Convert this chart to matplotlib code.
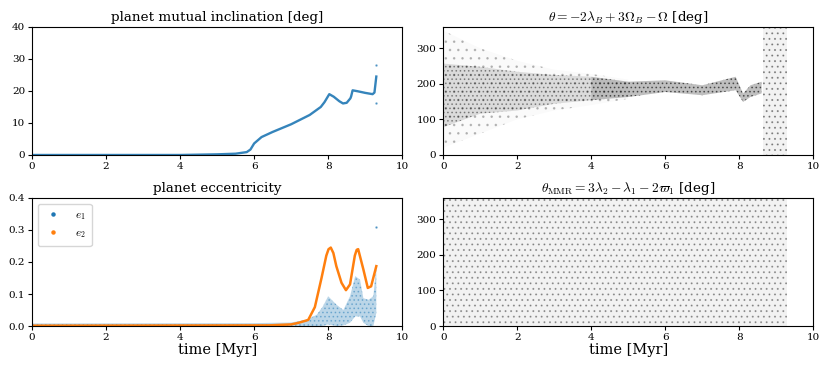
import matplotlib
matplotlib.use("Agg")
import matplotlib.pyplot as plt
from matplotlib.lines import Line2D

plt.rcParams['font.family'] = 'serif'
plt.rcParams['font.serif'] = ['DejaVu Serif']
plt.rcParams['mathtext.fontset'] = 'cm'
plt.rcParams['hatch.linewidth'] = 0.7

# mutual inclination [deg] vs time [Myr]
inc_t = [0, 1, 2, 3, 4, 5.0, 5.5, 5.8, 5.9, 6.0, 6.2, 6.5, 7.0, 7.5, 7.8, 7.9, 8.03,
         8.15, 8.3, 8.4, 8.5, 8.6, 8.62, 8.66, 8.8, 9.0, 9.2, 9.25, 9.3]
inc = [0, 0, 0, 0, 0, 0.2, 0.4, 0.9, 1.7, 3.6, 5.6, 7.2, 9.6, 12.5, 15.0, 16.5, 19.0,
       18.2, 16.8, 16.1, 16.3, 17.7, 18.3, 20.2, 19.9, 19.4, 19.0, 19.5, 24.5]
inc_out_t = [9.3, 9.3]
inc_out = [28.0, 16.3]

# eccentricity of planet 2 (orange curve)
e2_t = [0, 6.4, 7.0, 7.2, 7.46, 7.64, 7.82, 7.95, 8.01, 8.07, 8.14, 8.22, 8.36, 8.48,
        8.59, 8.72, 8.77, 8.81, 8.95, 9.07, 9.16, 9.3]
e2 = [0.001, 0.002, 0.005, 0.01, 0.019, 0.059, 0.15, 0.22, 0.24, 0.245, 0.228, 0.187,
      0.135, 0.112, 0.13, 0.22, 0.238, 0.24, 0.177, 0.119, 0.124, 0.187]

# eccentricity of planet 1 (blue cloud), lower / upper envelope
e1_t = [0, 6.0, 7.0, 7.4, 7.69, 7.85, 8.0, 8.23, 8.41, 8.59, 8.73, 8.86, 8.95, 9.09, 9.22, 9.3]
e1_lo = [0.0, 0.0, 0.0, 0.0, 0.0, 0.0, 0.005, 0.0, 0.002, 0.01, 0.03, 0.03, 0.01, 0.0, 0.0, 0.04]
e1_hi = [0.008, 0.009, 0.011, 0.019, 0.035, 0.06, 0.093, 0.066, 0.05, 0.093, 0.156, 0.145, 0.087, 0.082, 0.093, 0.187]
e1_out_t = [9.3]
e1_out = [0.31]

# theta = -2 lam_B + 3 Om_B - Om : dense band (early, late) and sparse outer band
th_t1 = [0, 1, 2, 3, 4]
th_lo1 = [78, 116, 125, 144, 154]
th_hi1 = [257, 248, 234, 225, 220]
th_t2 = [4, 5, 6, 7, 7.9, 8.1, 8.3, 8.6]
th_lo2 = [154, 163, 177, 168, 182, 149, 163, 173]
th_hi2 = [220, 206, 210, 196, 220, 173, 196, 206]
th_out_t = [0, 1, 2, 3, 4, 5]
th_out_lo = [20, 60, 100, 125, 140, 158]
th_out_hi = [350, 300, 265, 240, 228, 212]
th_circ_t = [8.65, 9.3]      # circulating part, fills 0..360

# theta_MMR circulates over the whole run
mmr_t = [0, 9.3]

fig = plt.figure(figsize=(8.3, 3.69), dpi=100)
ax1 = fig.add_axes([0.0386, 0.580, 0.446, 0.347])
ax2 = fig.add_axes([0.534, 0.580, 0.446, 0.347])
ax3 = fig.add_axes([0.0386, 0.1165, 0.446, 0.347])
ax4 = fig.add_axes([0.534, 0.1165, 0.446, 0.347])

blue = '#1f77b4'
orange = '#ff7f0e'

# inclination
ax1.plot(inc_t, inc, color=blue, lw=1.7, alpha=0.9)
ax1.plot(inc_out_t, inc_out, '.', color=blue, ms=1.5, alpha=0.6)
ax1.set_xlim(0, 10)
ax1.set_ylim(0, 40)
ax1.set_title('planet mutual inclination [deg]')

# theta
ax2.fill_between(th_out_t, th_out_lo, th_out_hi, facecolor=(0, 0, 0, 0.02),
                 hatch='..', edgecolor=(0, 0, 0, 0.2), lw=0)
ax2.fill_between(th_t1, th_lo1, th_hi1, facecolor=(0, 0, 0, 0.12),
                 hatch='....', edgecolor=(0, 0, 0, 0.35), lw=0)
ax2.fill_between(th_t2, th_lo2, th_hi2, facecolor=(0, 0, 0, 0.25),
                 hatch='....', edgecolor=(0, 0, 0, 0.5), lw=0)
ax2.fill_between(th_circ_t, [0, 0], [360, 360], facecolor=(0, 0, 0, 0.05),
                 hatch='...', edgecolor=(0, 0, 0, 0.35), lw=0)
ax2.set_xlim(0, 10)
ax2.set_ylim(0, 360)
ax2.set_yticks([0, 100, 200, 300])
ax2.set_title(r'$\theta = -2\lambda_B + 3\Omega_B - \Omega$ [deg]')

# eccentricity
ax3.fill_between(e1_t, e1_lo, e1_hi, facecolor=(0.12, 0.47, 0.71, 0.3),
                 hatch='....', edgecolor=(0.12, 0.47, 0.71, 0.4), lw=0)
ax3.plot(e1_out_t, e1_out, '.', color=blue, ms=1.5, alpha=0.6)
ax3.plot(e2_t, e2, color=orange, lw=1.8)
ax3.set_xlim(0, 10)
ax3.set_ylim(0, 0.4)
ax3.set_title('planet eccentricity')
ax3.set_xlabel('time [Myr]', fontsize=10.5, labelpad=1)
handles = [Line2D([], [], ls='none', marker='o', ms=2.2, color=blue),
           Line2D([], [], ls='none', marker='o', ms=2.2, color=orange)]
ax3.legend(handles, [r'$e_1$', r'$e_2$'], loc='upper left', fontsize=8,
           handlelength=1.6, handletextpad=1.2, borderpad=0.55, labelspacing=0.6)

# theta MMR
ax4.fill_between(mmr_t, [0, 0], [360, 360], facecolor=(0, 0, 0, 0.05),
                 hatch='...', edgecolor=(0, 0, 0, 0.3), lw=0)
ax4.set_xlim(0, 10)
ax4.set_ylim(0, 360)
ax4.set_yticks([0, 100, 200, 300])
ax4.set_title(r'$\theta_{\rm MMR} = 3\lambda_2 - \lambda_1 - 2\varpi_1$ [deg]')
ax4.set_xlabel('time [Myr]', fontsize=10.5, labelpad=1)

for ax in (ax1, ax2, ax3, ax4):
    ax.set_xticks([0, 2, 4, 6, 8, 10])
    ax.tick_params(labelsize=7.5, length=3, pad=2)
    ax.set_title(ax.get_title(), fontsize=9.7, pad=4)

fig.savefig('out.png', dpi=100)
